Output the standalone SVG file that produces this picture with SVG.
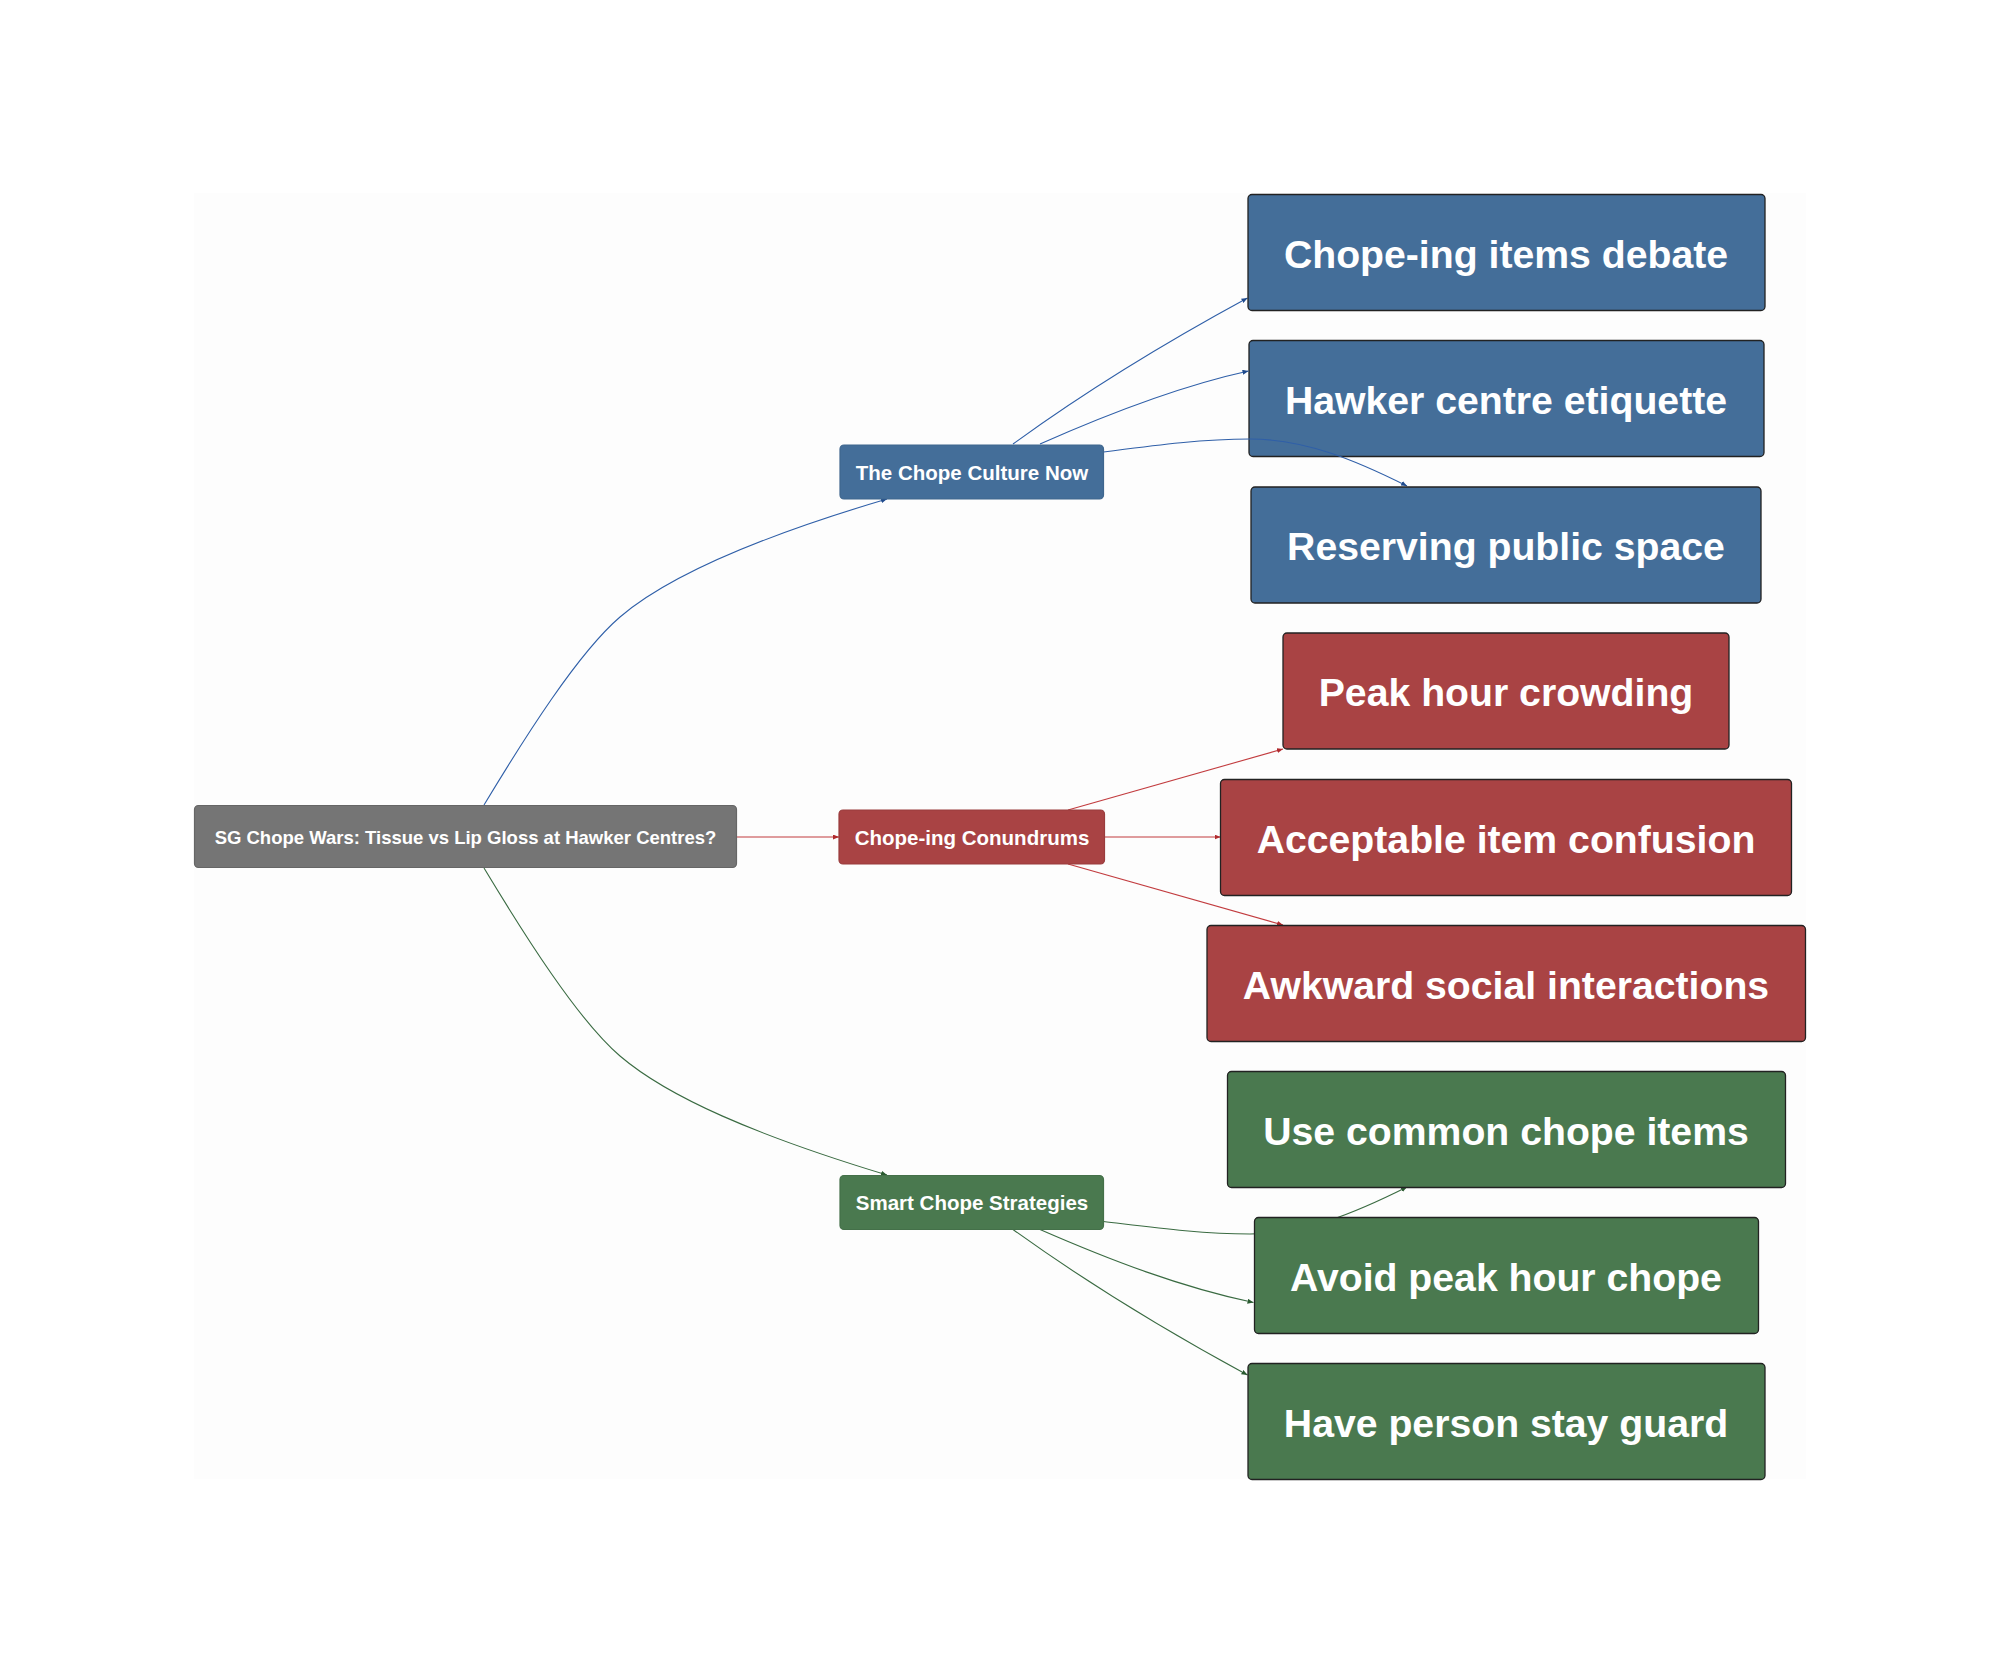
<svg xmlns="http://www.w3.org/2000/svg" width="2000" height="1673" viewBox="0 0 2000 1673">
<style>
.n{stroke-width:1.2}
.gray{fill:#757575;stroke:#666}
.b{fill:#446e99}.r{fill:#a94344}.g{fill:#4a794f}
.m.b{stroke:#3f668e}.m.r{stroke:#9a3c3d}.m.g{stroke:#447049}
.l{stroke:#222;stroke-width:1.3}
text{font-family:"Liberation Sans",Arial,sans-serif;font-weight:700;fill:#fff;text-anchor:middle;dominant-baseline:central}
.t1{font-size:18.5px}.t2{font-size:20.5px}.t3{font-size:39.2px}
.e{fill:none;stroke-width:1.1}
.eb{stroke:#2f5fa8}.er{stroke:#c23c3f}.eg{stroke:#3a6b42}
</style>
<defs>
<marker id="ab" markerUnits="userSpaceOnUse" markerWidth="6" markerHeight="5" refX="6" refY="2.5" orient="auto"><path d="M0 0L6 2.5L0 5z" fill="#1f4a8c"/></marker>
<marker id="ar" markerUnits="userSpaceOnUse" markerWidth="6" markerHeight="5" refX="6" refY="2.5" orient="auto"><path d="M0 0L6 2.5L0 5z" fill="#b02a2e"/></marker>
<marker id="ag" markerUnits="userSpaceOnUse" markerWidth="6" markerHeight="5" refX="6" refY="2.5" orient="auto"><path d="M0 0L6 2.5L0 5z" fill="#2a5a30"/></marker>
</defs>
<rect width="2000" height="1673" fill="#fff"/>
<rect x="194" y="193" width="1612" height="1286" fill="#fdfdfd"/>
<g id="n-hawker"><rect class="l b" x="1249" y="340.500" width="515" height="116" rx="4"/><text class="t3" x="1506" y="400.500">Hawker centre etiquette</text></g>
<g id="connectors">
<path class="e eb" marker-end="url(#ab)" d="M484 805C525 737 578 653 620 617C668 576 755 538 887 499"/>
<path class="e er" marker-end="url(#ar)" d="M736.500 837H839"/>
<path class="e eg" marker-end="url(#ag)" d="M484 868C525 936 578 1020 620 1056C668 1097 755 1135 887 1175"/>
<path class="e eb" marker-end="url(#ab)" d="M1013 444C1090 388 1170 340 1247.500 298"/>
<path class="e eb" marker-end="url(#ab)" d="M1040 444C1110 413 1180 386 1248.500 371"/>
<path class="e eb" marker-end="url(#ab)" d="M1103.500 452C1150 446 1200 439 1250 439C1305 439 1355 460 1407 486"/>
<path class="e er" marker-end="url(#ar)" d="M1068 810L1283 749"/>
<path class="e er" marker-end="url(#ar)" d="M1104.500 837H1220.500"/>
<path class="e er" marker-end="url(#ar)" d="M1068 864L1283 925"/>
<path class="e eg" marker-end="url(#ag)" d="M1103.500 1221.500C1150 1227 1200 1234 1250 1234C1305 1234 1355 1213 1407 1187"/>
<path class="e eg" marker-end="url(#ag)" d="M1040 1229.500C1110 1260 1180 1287 1253.500 1302.500"/>
<path class="e eg" marker-end="url(#ag)" d="M1013 1229.500C1090 1285 1170 1333 1247.500 1375"/>
</g>
<g id="n-root"><rect class="n gray" x="194.500" y="805.500" width="542" height="62" rx="4"/><text class="t1" x="465.500" y="837.500">SG Chope Wars: Tissue vs Lip Gloss at Hawker Centres?</text></g>
<g id="n-culture"><rect class="n m b" x="840" y="445" width="263.500" height="54" rx="4"/><text class="t2" x="972" y="472.500">The Chope Culture Now</text></g>
<g id="n-conundrums"><rect class="n m r" x="839" y="810" width="265.500" height="54" rx="4"/><text class="t2" x="972" y="837.500">Chope-ing Conundrums</text></g>
<g id="n-smart"><rect class="n m g" x="840" y="1175.500" width="263.500" height="54" rx="4"/><text class="t2" x="972" y="1202.500">Smart Chope Strategies</text></g>
<g id="n-debate"><rect class="l b" x="1248" y="194.500" width="517" height="116" rx="4"/><text class="t3" x="1506" y="254.500">Chope-ing items debate</text></g>
<g id="n-reserving"><rect class="l b" x="1251" y="487" width="510" height="116" rx="4"/><text class="t3" x="1506" y="546.500">Reserving public space</text></g>
<g id="n-peak"><rect class="l r" x="1283" y="633" width="446" height="116" rx="4"/><text class="t3" x="1506" y="692.500">Peak hour crowding</text></g>
<g id="n-acceptable"><rect class="l r" x="1220.500" y="779.500" width="571" height="116" rx="4"/><text class="t3" x="1506" y="839">Acceptable item confusion</text></g>
<g id="n-awkward"><rect class="l r" x="1207" y="925.500" width="598.500" height="116" rx="4"/><text class="t3" x="1506" y="985">Awkward social interactions</text></g>
<g id="n-use"><rect class="l g" x="1227.500" y="1071.500" width="558" height="116" rx="4"/><text class="t3" x="1506" y="1131">Use common chope items</text></g>
<g id="n-avoid"><rect class="l g" x="1254.500" y="1217.500" width="504" height="116" rx="4"/><text class="t3" x="1506" y="1277">Avoid peak hour chope</text></g>
<g id="n-have"><rect class="l g" x="1248" y="1363.500" width="517" height="116" rx="4"/><text class="t3" x="1506" y="1423">Have person stay guard</text></g>
</svg>
